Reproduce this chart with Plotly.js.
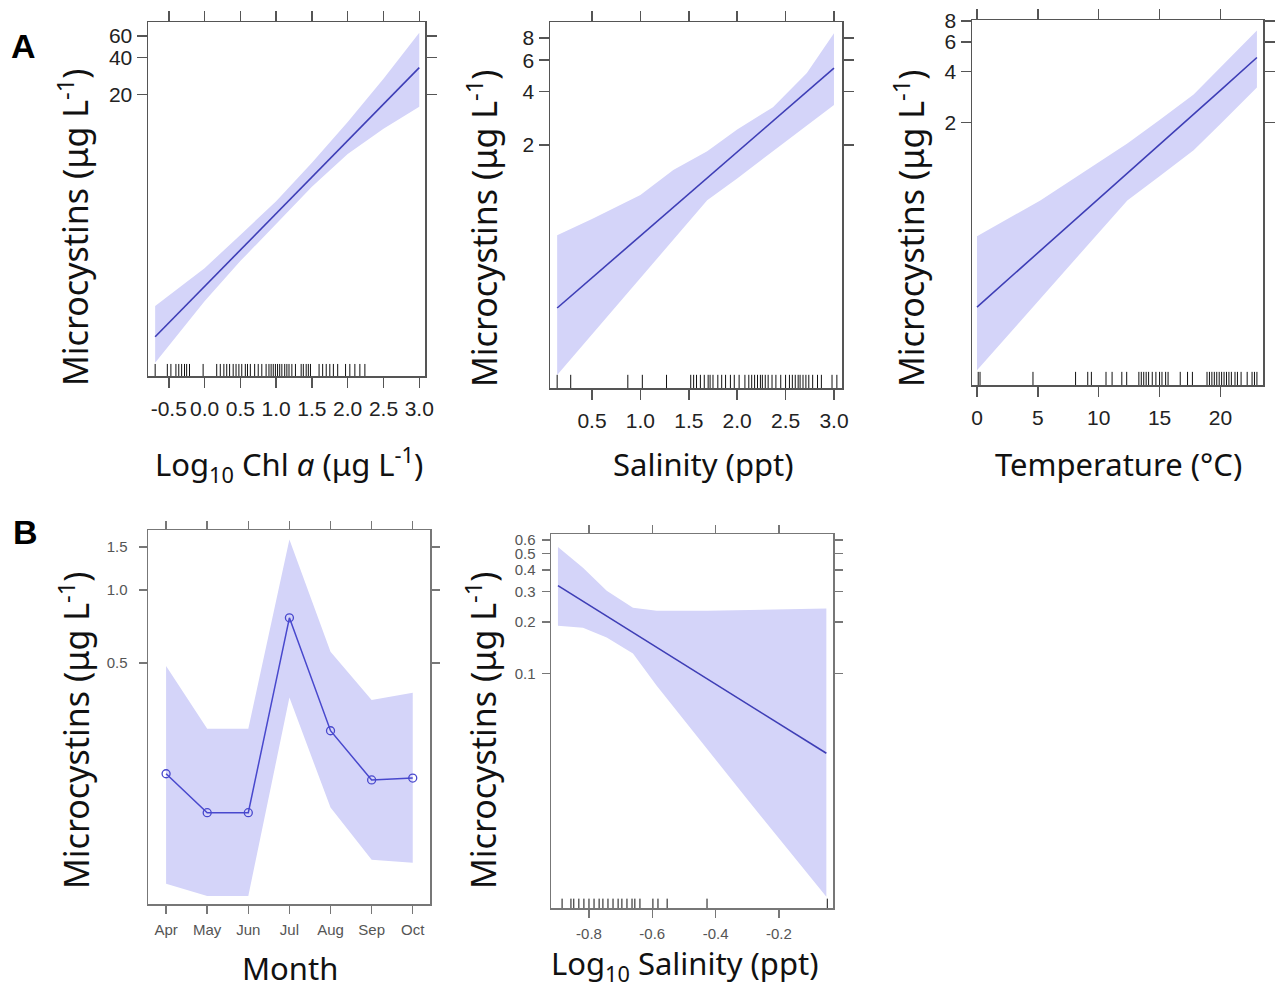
<!DOCTYPE html>
<html>
<head>
<meta charset="utf-8">
<script src="https://cdn.plot.ly/plotly-3.0.1.min.js"></script>
<style>html,body{margin:0;padding:0;background:#fff;}#chart{width:1275px;height:989px;}</style>
</head>
<body>
<div id="chart"></div>
<script>
// ---------- Panel A1: Log10 Chl a ----------
const chlX   = [-0.69, 0.0, 0.5, 1.0, 1.5, 2.0, 2.5, 3.0];
const chlFit = [0.216, 0.553, 1.10, 2.17, 4.30, 8.50, 16.8, 33.2];
const chlLo  = [0.133, 0.42, 0.89, 1.80, 3.57, 6.59, 10.6, 16.0];
const chlHi  = [0.384, 0.78, 1.45, 2.73, 5.60, 12.0, 27.0, 63.8];
const chlRug = [-0.69, -0.52, -0.47, -0.40, -0.36, -0.32, -0.28, -0.25, -0.21, -0.02, 0.17, 0.22, 0.27, 0.31, 0.35, 0.40, 0.44, 0.48, 0.52, 0.57, 0.60, 0.64, 0.70, 0.75, 0.80, 0.86, 0.90, 0.93, 0.96, 0.99, 1.02, 1.05, 1.08, 1.12, 1.15, 1.18, 1.22, 1.27, 1.35, 1.38, 1.42, 1.45, 1.48, 1.60, 1.65, 1.70, 1.75, 1.80, 1.86, 1.97, 2.03, 2.10, 2.17, 2.24];
const chlXTicks = [-0.5, 0.0, 0.5, 1.0, 1.5, 2.0, 2.5, 3.0];
const chlXLabels = ["-0.5", "0.0", "0.5", "1.0", "1.5", "2.0", "2.5", "3.0"];
const chlYTicks = [20, 40, 60];

// ---------- Panel A2: Salinity ----------
const salX   = [0.14, 0.5, 1.0, 1.34, 1.69, 2.0, 2.37, 2.72, 3.0];
const salFit = [0.243, 0.359, 0.618, 0.89, 1.31, 1.83, 2.73, 3.99, 5.42];
const salLo  = [0.102, 0.173, 0.358, 0.585, 0.98, 1.30, 1.85, 2.60, 3.36];
const salHi  = [0.624, 0.77, 1.05, 1.45, 1.85, 2.45, 3.27, 5.08, 8.5];
const salRug = [0.14, 0.28, 0.87, 1.02, 1.27, 1.52, 1.55, 1.58, 1.62, 1.66, 1.70, 1.72, 1.75, 1.80, 1.84, 1.88, 1.93, 1.97, 2.02, 2.08, 2.12, 2.15, 2.18, 2.21, 2.24, 2.26, 2.29, 2.32, 2.36, 2.40, 2.45, 2.50, 2.54, 2.57, 2.60, 2.63, 2.65, 2.68, 2.71, 2.74, 2.78, 2.83, 2.87, 2.98, 3.03];
const salXTicks = [0.5, 1.0, 1.5, 2.0, 2.5, 3.0];
const salXLabels = ["0.5", "1.0", "1.5", "2.0", "2.5", "3.0"];
const salYTicks = [2, 4, 6, 8];

// ---------- Panel A3: Temperature ----------
const tmpX   = [0, 5.2, 10, 12.35, 15, 17.8, 20, 23];
const tmpFit = [0.161, 0.347, 0.70, 1.00, 1.48, 2.24, 3.10, 4.85];
const tmpLo  = [0.068, 0.18, 0.446, 0.69, 0.96, 1.37, 1.96, 3.22];
const tmpHi  = [0.423, 0.69, 1.16, 1.50, 2.07, 2.93, 4.2, 7.0];
const tmpRug = [0.1, 0.25, 4.6, 8.1, 9.1, 9.4, 10.6, 11.1, 11.9, 12.3, 13.3, 13.5, 13.7, 13.9, 14.1, 14.4, 14.7, 15.0, 15.2, 15.5, 15.7, 16.7, 17.3, 17.7, 18.9, 19.1, 19.3, 19.5, 19.7, 19.9, 20.1, 20.3, 20.5, 20.7, 20.9, 21.2, 21.4, 21.7, 22.2, 22.6, 22.8, 23.0];
const tmpXTicks = [0, 5, 10, 15, 20];
const tmpYTicks = [2, 4, 6, 8];

// ---------- Panel B1: Month ----------
const months   = ["Apr", "May", "Jun", "Jul", "Aug", "Sep", "Oct"];
const monthFit = [0.175, 0.121, 0.121, 0.767, 0.263, 0.165, 0.168];
const monthLo  = [0.0617, 0.055, 0.055, 0.36, 0.127, 0.0774, 0.0753];
const monthHi  = [0.486, 0.268, 0.268, 1.61, 0.556, 0.352, 0.377];
const monthYTicks = [0.5, 1.0, 1.5];
const monthYLabels = ["0.5", "1.0", "1.5"];

// ---------- Panel B2: Log10 Salinity ----------
const lsFitX = [-0.898, -0.050];
const lsFit  = [0.325, 0.0343];
const lsHiX  = [-0.898, -0.819, -0.744, -0.661, -0.586, -0.427, -0.050];
const lsHi   = [0.547, 0.413, 0.304, 0.242, 0.232, 0.232, 0.239];
const lsLoX  = [-0.898, -0.819, -0.744, -0.661, -0.586, -0.300, -0.050];
const lsLo   = [0.19, 0.185, 0.162, 0.131, 0.085, 0.0185, 0.005];
const lsRug  = [-0.885, -0.857, -0.848, -0.832, -0.816, -0.800, -0.784, -0.768, -0.756, -0.740, -0.724, -0.708, -0.696, -0.680, -0.664, -0.655, -0.639, -0.598, -0.582, -0.553, -0.427, -0.047];
const lsXTicks = [-0.8, -0.6, -0.4, -0.2];
const lsXLabels = ["-0.8", "-0.6", "-0.4", "-0.2"];
const lsYTicks = [0.1, 0.2, 0.3, 0.4, 0.5, 0.6];

// ---------- styling ----------
const BAND = 'rgb(212,212,249)';
const LINE = 'rgb(62,62,182)';
const W = 1275, H = 989;
const px = v => v / W;
const py = v => 1 - v / H;

function bandTraces(xs, lo, hi, fitX, fit, xa, ya, loX, hiX) {
  const lx = loX || xs, hx = hiX || xs;
  const polyX = lx.concat(hx.slice().reverse());
  const polyY = lo.concat(hi.slice().reverse());
  return [
    {x: polyX, y: polyY, xaxis: xa, yaxis: ya, type: 'scatter', mode: 'lines',
     fill: 'toself', fillcolor: BAND, line: {width: 0, color: BAND}, hoverinfo: 'skip', showlegend: false},
    {x: fitX, y: fit, xaxis: xa, yaxis: ya, type: 'scatter', mode: 'lines',
     line: {color: LINE, width: 1.6}, showlegend: false}
  ];
}

const traces = [].concat(
  bandTraces(chlX, chlLo, chlHi, chlX, chlFit, 'x', 'y'),
  bandTraces(salX, salLo, salHi, salX, salFit, 'x2', 'y2'),
  bandTraces(tmpX, tmpLo, tmpHi, tmpX, tmpFit, 'x3', 'y3'),
  [
    {x: months, y: monthLo, xaxis: 'x4', yaxis: 'y4', type: 'scatter', mode: 'lines',
     line: {width: 0, color: BAND}, showlegend: false, hoverinfo: 'skip'},
    {x: months, y: monthHi, xaxis: 'x4', yaxis: 'y4', type: 'scatter', mode: 'lines',
     fill: 'tonexty', fillcolor: BAND, line: {width: 0, color: BAND}, showlegend: false, hoverinfo: 'skip'},
    {x: months, y: monthFit, xaxis: 'x4', yaxis: 'y4', type: 'scatter', mode: 'lines+markers',
     line: {color: 'rgb(72,72,205)', width: 1.5},
     marker: {symbol: 'circle-open', size: 8, color: 'rgb(72,72,205)', line: {width: 1.3}}, showlegend: false}
  ],
  bandTraces(null, lsLo, lsHi, lsFitX, lsFit, 'x5', 'y5', lsLoX, lsHiX)
);

function rug(vals, xa, ya, h) {
  return vals.map(v => ({type: 'line', xref: xa, yref: ya + ' domain', x0: v, x1: v, y0: 0, y1: h,
    line: {color: '#111', width: 1}}));
}
const shapes = [].concat(
  rug(chlRug, 'x', 'y', 0.034),
  rug(salRug, 'x2', 'y2', 0.036),
  rug(tmpRug, 'x3', 'y3', 0.036),
  rug(lsRug, 'x5', 'y5', 0.025)
);

const tickFontA = {family: 'Liberation Sans, Arial, sans-serif', size: 21, color: '#222'};
const tickFontB = {family: 'Liberation Sans, Arial, sans-serif', size: 15, color: '#555'};
function ax(extra, isB) {
  return Object.assign({
    showline: true, mirror: 'ticks', ticks: 'outside',
    linecolor: isB ? '#777' : '#555', linewidth: 1.5,
    tickcolor: isB ? '#777' : '#555', tickwidth: 1.5, ticklen: isB ? 8 : 10,
    showgrid: false, zeroline: false, tickangle: 0,
    tickfont: isB ? tickFontB : tickFontA, fixedrange: true
  }, extra);
}

const yTitleFont = {family: 'Noto Sans, sans-serif', size: 34, color: '#111'};
const xTitleFont = {family: 'Noto Sans, sans-serif', size: 31, color: '#111'};
const yTitle = 'Microcystins (μg L<sup>-1</sup>)';
function ann(text, x, y, angle, font) {
  return {text: text, x: px(x), y: py(y), xref: 'paper', yref: 'paper', showarrow: false,
    xanchor: 'center', yanchor: 'middle', textangle: angle || 0, font: font || xTitleFont};
}
const letterFont = {family: 'Liberation Sans, Arial, sans-serif', size: 34, color: '#000'};

const layout = {
  width: W, height: H, margin: {l: 0, r: 0, t: 0, b: 0},
  paper_bgcolor: '#fff', plot_bgcolor: '#fff', showlegend: false,
  xaxis:  ax({domain: [px(148), px(425)], anchor: 'y', range: [-0.79, 3.08], tickvals: chlXTicks, ticktext: chlXLabels, ticklabelstandoff: 3}),
  yaxis:  ax({domain: [py(376), py(22)], anchor: 'x', type: 'log', range: [-0.984, 1.892], tickvals: chlYTicks, ticktext: chlYTicks.map(String)}),
  xaxis2: ax({domain: [px(550), px(842)], anchor: 'y2', range: [0.066, 3.083], tickvals: salXTicks, ticktext: salXLabels, ticklabelstandoff: 3}),
  yaxis2: ax({domain: [py(388), py(22)], anchor: 'x2', type: 'log', range: [-1.064, 0.993], tickvals: salYTicks, ticktext: salYTicks.map(String)}),
  xaxis3: ax({domain: [px(972), px(1263)], anchor: 'y3', range: [-0.41, 23.5], tickvals: tmpXTicks, ticktext: tmpXTicks.map(String), ticklabelstandoff: 3}),
  yaxis3: ax({domain: [py(385), py(20)], anchor: 'x3', type: 'log', range: [-1.255, 0.908], tickvals: tmpYTicks, ticktext: tmpYTicks.map(String)}),
  xaxis4: ax({domain: [px(148), px(430)], anchor: 'y4', type: 'category', range: [-0.44, 6.42], ticklabelstandoff: 3}, true),
  yaxis4: ax({domain: [py(904), py(530)], anchor: 'x4', type: 'log', range: [-1.293, 0.246], tickvals: monthYTicks, ticktext: monthYLabels, ticklabelstandoff: 8}, true),
  xaxis5: ax({domain: [px(551), px(833)], anchor: 'y5', range: [-0.920, -0.029], tickvals: lsXTicks, ticktext: lsXLabels, ticklabelstandoff: 3}, true),
  yaxis5: ax({domain: [py(908), py(534)], anchor: 'x5', type: 'log', range: [-2.366, -0.187], tickvals: lsYTicks, ticktext: lsYTicks.map(String), ticklabelstandoff: 3}, true),
  shapes: shapes,
  annotations: [
    ann('<b>A</b>', 24, 46, 0, letterFont),
    ann('<b>B</b>', 25, 532, 0, letterFont),
    ann(yTitle, 74, 227, -90, yTitleFont),
    ann(yTitle, 482, 228, -90, yTitleFont),
    ann(yTitle, 909, 228, -90, yTitleFont),
    ann(yTitle, 74, 730, -90, yTitleFont),
    ann(yTitle, 481, 730, -90, yTitleFont),
    ann('Log<sub>10</sub> Chl <i>a</i> (μg L<sup>-1</sup>)', 289, 464),
    ann('Salinity (ppt)', 703, 464),
    ann('Temperature (°C)', 1118, 464),
    ann('Month', 290, 968),
    ann('Log<sub>10</sub> Salinity (ppt)', 685, 965)
  ]
};

Plotly.newPlot('chart', traces, layout, {displayModeBar: false, staticPlot: true});
</script>
</body>
</html>
